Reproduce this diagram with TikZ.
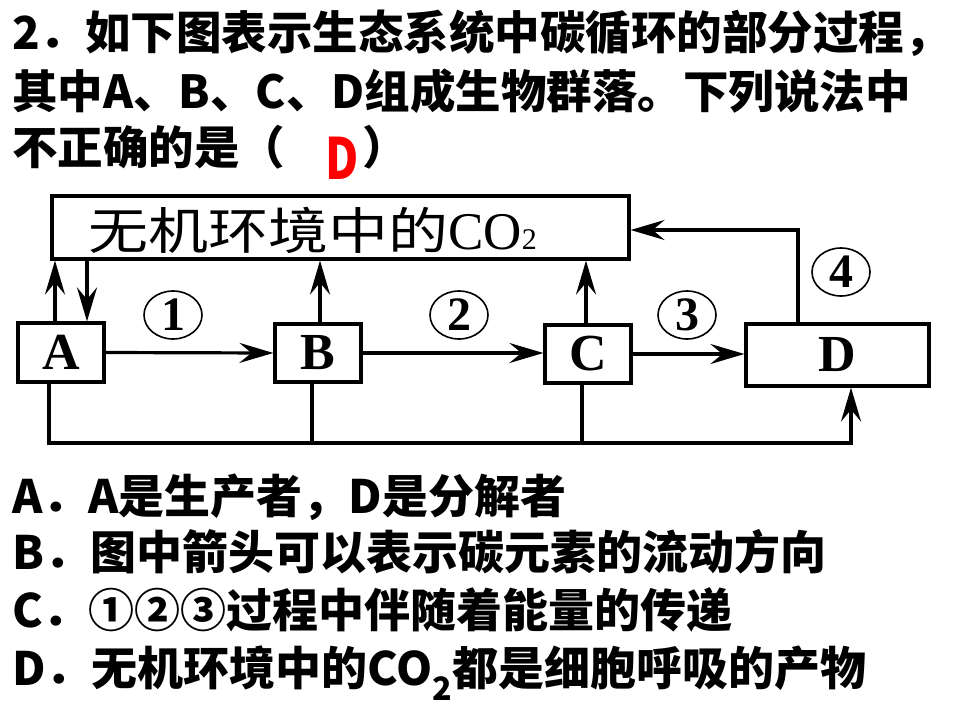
\documentclass[tikz,border=0pt]{standalone}
\usepackage{fontspec}
\usepackage{graphicx}
\usetikzlibrary{arrows.meta,shapes.geometric}
\newfontfamily\hei{Noto Sans CJK SC}
\newfontfamily\serifL{Liberation Serif}
\begin{document}
\begin{tikzpicture}[x=1pt,y=-1pt,
  qtext/.style={anchor=base west, inner sep=0, font=\hei\bfseries\fontsize{45.5}{50}\selectfont},
  opt/.style={anchor=base west, inner sep=0, font=\hei\bfseries\fontsize{46}{50}\selectfont},
  box/.style={draw, line width=3.2pt, inner sep=0, font=\serifL\bfseries\fontsize{52}{52}\selectfont},
  conn/.style={line width=3.2pt},
  arr/.style={conn, -{Stealth[length=34pt,width=20pt,inset=12pt]}},
  num/.style={ellipse, draw, line width=1.6pt, minimum width=58pt, minimum height=48pt, inner sep=0, font=\serifL\bfseries\fontsize{48}{48}\selectfont}]
\useasboundingbox (0,0) rectangle (960,720);

% question text
\node[qtext] (t1) at (12,49) {2．如下图表示生态系统中碳循环的部分过程，};
\node[qtext] (t2) at (12,108) {其中A、B、C、D组成生物群落。下列说法中};
\node[qtext] (t3) at (12,164) {不正确的是（};
\node[inner sep=0, text=red, font=\hei\bfseries\fontsize{57}{57}\selectfont] (ans) at (342,158) {\scalebox{0.8}[1]{D}};
\node[qtext] (t3b) at (362,164) {）};

% diagram boxes
\node[draw, line width=3.2pt, minimum width=577pt, minimum height=63pt, inner sep=0] (co2) at (340.5,227.5) {};
\node[anchor=base west, inner sep=0] (co2label) at (88,249)
  {{\hei\fontsize{50}{50}\selectfont\scalebox{1.2}[1]{无机环境中的}}{\serifL\fontsize{53}{53}\selectfont CO{\fontsize{30}{30}\selectfont 2}}};
\node[box, minimum width=86pt, minimum height=59pt] (A) at (61,352.5) {A};
\node[box, minimum width=86pt, minimum height=58pt] (B) at (318,353) {B};
\node[box, minimum width=86pt, minimum height=58pt] (C) at (588,354) {C};
\node[box, minimum width=183pt, minimum height=62pt] (D) at (837.5,355) {D};

% helper coordinates
\coordinate (xA1) at (55,0);
\coordinate (xA2) at (87,0);
\coordinate (xB) at (320,0);
\coordinate (xC) at (586,0);
\coordinate (xD) at (798,0);
\coordinate (yD) at (0,230);
\coordinate (xA3) at (49,0);
\coordinate (xB2) at (312,0);
\coordinate (xC2) at (582,0);
\coordinate (xD2) at (851,0);
\coordinate (ybot) at (0,443);

% connectors
\draw[arr] (A.north -| xA1) -- (co2.south -| xA1);
\draw[arr] (co2.south -| xA2) -- (A.north -| xA2);
\draw[arr] (B.north -| xB) -- (co2.south -| xB);
\draw[arr] (C.north -| xC) -- (co2.south -| xC);
\draw[arr] (D.north -| xD) -- (xD |- yD) -- (co2.east |- yD);
\draw[arr] (A.east) -- (B.west);
\draw[arr] (B.east) -- (B.east -| C.west);
\draw[arr] (C.east) -- (C.east -| D.west);
\draw[arr] (A.south -| xA3) -- (xA3 |- ybot) -- (xD2 |- ybot) -- (D.south -| xD2);
\draw[conn] (B.south -| xB2) -- (xB2 |- ybot);
\draw[conn] (C.south -| xC2) -- (xC2 |- ybot);

% process numbers
\node[num] (n1) at (173,315) {1};
\node[num] (n2) at (459,315) {2};
\node[num] (n3) at (687,315) {3};
\node[num] (n4) at (841,272) {4};

% options
\node[opt] (oA) at (12,513) {A．A是生产者，D是分解者};
\node[opt] (oB) at (12,569) {B．图中箭头可以表示碳元素的流动方向};
\node[opt] (oC) at (12,627) {C．①②③过程中伴随着能量的传递};
\node[opt] (oD) at (12,685) {D．无机环境中的CO\textsubscript{2}都是细胞呼吸的产物};
\end{tikzpicture}
\end{document}
